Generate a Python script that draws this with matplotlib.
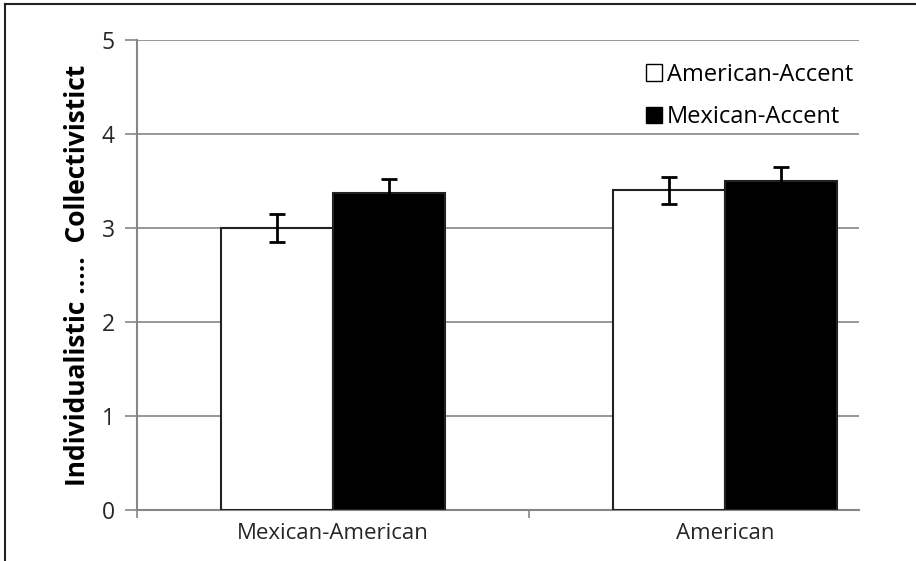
import numpy as np
import matplotlib.pyplot as plt
from matplotlib.lines import Line2D
from matplotlib.patches import Patch

# datos
groups = ['Mexican-American', 'American']
series = ['American-Accent', 'Mexican-Accent']
american_accent = [3.00, 3.40]
mexican_accent = [3.37, 3.50]
american_err = [0.15, 0.14]
mexican_err = [0.15, 0.15]

plt.rcParams['font.family'] = ['Open Sans', 'DejaVu Sans']

fig = plt.figure(figsize=(9.16, 5.61), dpi=100)
ax = fig.add_axes([0.1496, 0.0909, 0.9378 - 0.1496, 0.9287 - 0.0909])

x = np.arange(len(groups))
w = 0.286
err_kw = dict(ecolor='black', elinewidth=2, capsize=5.5, capthick=2)
ax.bar(x - w / 2, american_accent, w, color='white', edgecolor='#222222',
       linewidth=1.5, yerr=american_err, error_kw=err_kw, zorder=3)
ax.bar(x + w / 2, mexican_accent, w, color='black', edgecolor='#222222',
       linewidth=1.5, yerr=mexican_err, error_kw=err_kw, zorder=3)

ax.set_ylim(0, 5)
ax.set_xlim(-0.5, -0.5 + 722 / 392)
ax.set_yticks([0, 1, 2, 3, 4, 5])
ax.yaxis.grid(True, color='#868686', linewidth=1.2, zorder=0)
ax.set_axisbelow(True)

ax.set_xticks(x)
ax.set_xticklabels(groups)
ax.set_xticks([-0.5, 0.5], minor=True)
ax.tick_params(axis='x', which='major', length=0, pad=9, labelsize=16, labelcolor='#262626')
ax.tick_params(axis='x', which='minor', length=6, width=1.2, color='#868686', direction='out')
ax.tick_params(axis='y', length=9, width=1.2, color='#868686', direction='out',
               pad=7, labelsize=16.5, labelcolor='#262626')

for s in ['top', 'right']:
    ax.spines[s].set_visible(False)
for s in ['left', 'bottom']:
    ax.spines[s].set_color('#868686')
    ax.spines[s].set_linewidth(1.5)

ax.set_ylabel('Individualistic .....  Collectivistict', fontsize=19, fontweight='bold',
              labelpad=8)

handles = [Patch(facecolor='white', edgecolor='black', linewidth=1),
           Patch(facecolor='black', edgecolor='black', linewidth=1)]
ax.legend(handles, series, loc='upper right', bbox_to_anchor=(1.005, 0.972), frameon=False,
          fontsize=17, handlelength=0.7, handleheight=0.7, handletextpad=0.2,
          labelspacing=0.8, borderaxespad=0)

# marco de la figura (solo izquierda y arriba)
fig.add_artist(Line2D([0.0055, 0.0055], [0, 0.993], transform=fig.transFigure,
                      color='#222222', linewidth=1.5))
fig.add_artist(Line2D([0.0055, 1], [0.993, 0.993], transform=fig.transFigure,
                      color='#222222', linewidth=1.5))

fig.savefig('out.png', dpi=100)
